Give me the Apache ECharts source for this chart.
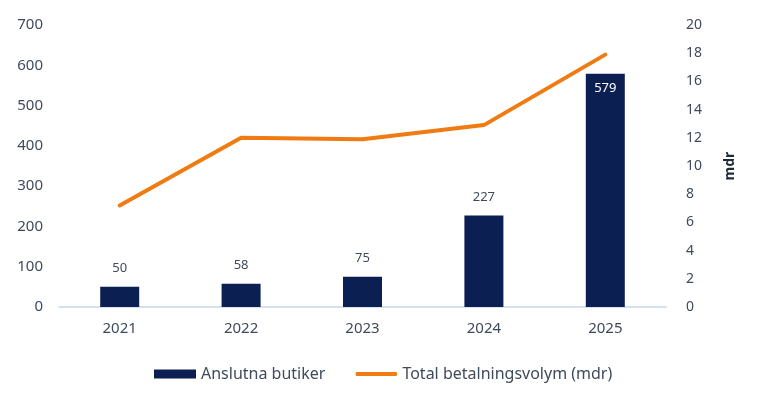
<!DOCTYPE html>
<html>
<head>
    <meta charset="utf-8">
    <title>Anslutna butiker och betalningsvolym</title>
    <script src="https://cdn.jsdelivr.net/npm/echarts@6.0.0/dist/echarts.min.js"></script>
    <style>
        html, body { margin: 0; padding: 0; background: #fff; }
        #chart-container { width: 775px; height: 399px; }
    </style>
</head>
<body>
<div id="chart-container"></div>
<script>
    const years = ['2021', '2022', '2023', '2024', '2025'];
    const stores = [50, 58, 75, 227, 579];
    const volume = [7.2, 12.0, 11.9, 12.9, 17.9];

    const textColor = '#3f4a5c';
    const font = 'Noto Sans';

    const chart = echarts.init(document.getElementById('chart-container'));

    // legendikon för linjen: tunn stapel, små punkter i hörnen håller ramen 42x9
    const lineIcon = 'path://M0,0L0.01,0L0,0.01Z M1,2.5L41,2.5L42,4.5L41,6.5L1,6.5L0,4.5Z M42,9L41.99,9L42,8.99Z';

    const option = {
        animation: false,
        textStyle: { fontFamily: font },
        grid: { left: 59, right: 109, top: 25, bottom: 92 },
        legend: {
            bottom: 12,
            left: 149,
            itemGap: 30,
            itemWidth: 42,
            itemHeight: 9,
            textStyle: { fontSize: 16, color: textColor, fontFamily: font },
            data: [
                { name: 'Anslutna butiker', icon: 'rect' },
                { name: 'Total betalningsvolym (mdr)', icon: lineIcon }
            ]
        },
        xAxis: {
            type: 'category',
            data: years,
            axisLine: { lineStyle: { color: '#c9d8ec', width: 1.5 } },
            axisTick: { show: false },
            axisLabel: { fontSize: 15, color: textColor, margin: 14 }
        },
        yAxis: [
            {
                type: 'value',
                min: 0, max: 700, interval: 100,
                splitLine: { show: false },
                axisLabel: { fontSize: 15, color: textColor, margin: 16 }
            },
            {
                type: 'value',
                min: 0, max: 20, interval: 2,
                position: 'right',
                splitLine: { show: false },
                axisLabel: { fontSize: 14, color: textColor, margin: 20 },
                name: 'mdr',
                nameLocation: 'middle',
                nameGap: 57,
                nameRotate: 90,
                nameTextStyle: { fontSize: 14, fontWeight: 'bold', color: '#1f2a3c' }
            }
        ],
        series: [
            {
                name: 'Anslutna butiker',
                type: 'bar',
                data: stores.map((v, i) => ({
                    value: v,
                    label: i === stores.length - 1
                        ? { position: 'insideTop', color: '#ffffff', distance: 8 }
                        : { position: 'top', color: textColor, distance: 12 }
                })),
                barWidth: 39,
                itemStyle: { color: '#0c1f52' },
                label: { show: true, fontSize: 13 }
            },
            {
                name: 'Total betalningsvolym (mdr)',
                type: 'line',
                yAxisIndex: 1,
                data: volume,
                symbol: 'none',
                lineStyle: { color: '#f07b12', width: 4, cap: 'round' },
                itemStyle: { color: '#f07b12' }
            }
        ]
    };

    chart.setOption(option);
</script>
</body>
</html>
